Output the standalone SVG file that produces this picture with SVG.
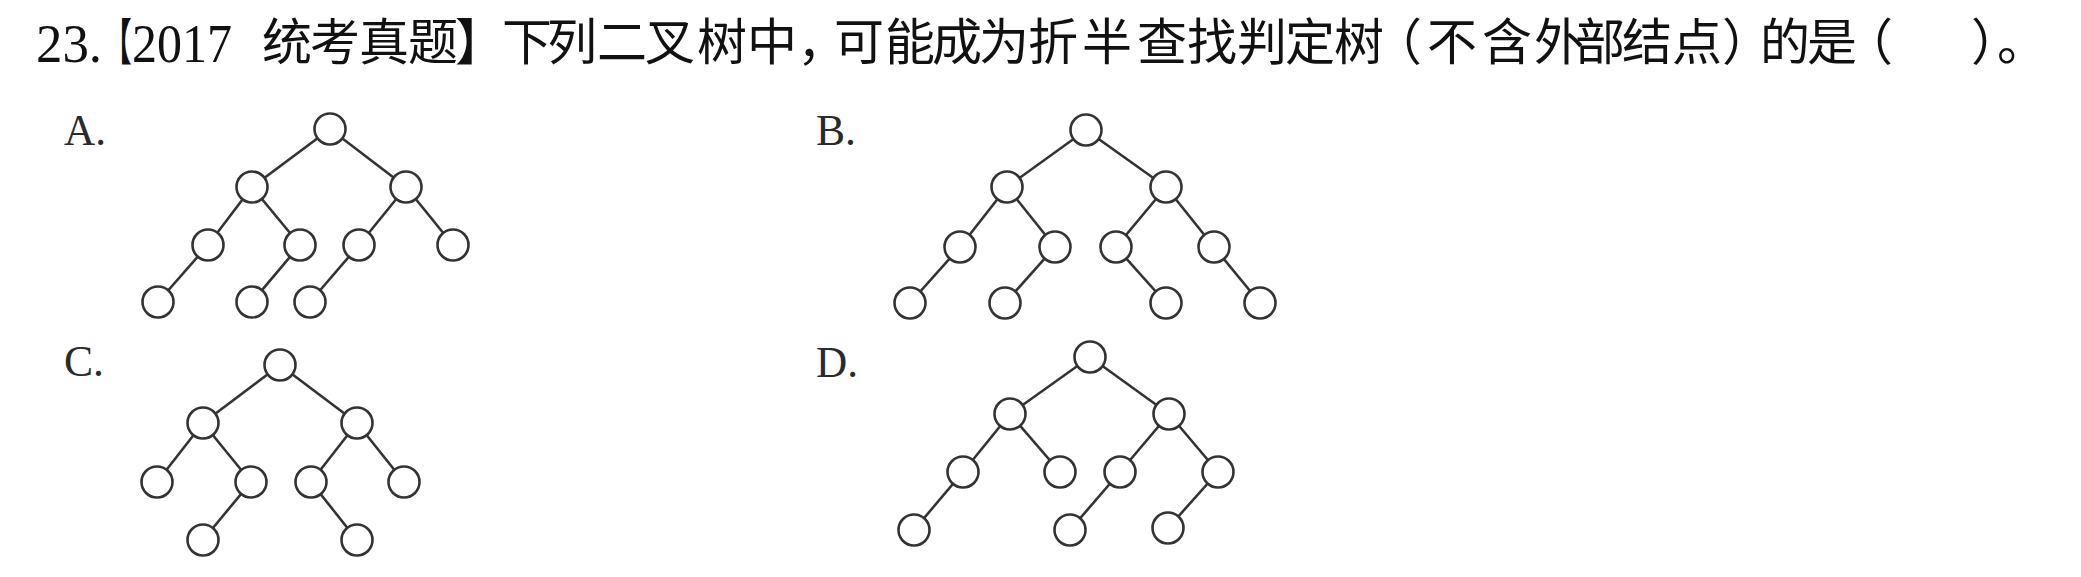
<svg xmlns="http://www.w3.org/2000/svg" width="2081" height="577" viewBox="0 0 2081 577">
<style>
.lat{font-family:"Liberation Serif","Times New Roman",serif;fill:#111}
.cjk{font-family:"Noto Sans CJK SC","Noto Sans CJK JP",sans-serif;fill:#111;font-size:50px}
.lbl{font-family:"Liberation Serif","Times New Roman",serif;fill:#2a2a2a;font-size:44px}
.edge{stroke:#333;stroke-width:2.6;fill:none}
.node{fill:#fff;stroke:#333;stroke-width:2.6}
</style>
<rect width="2081" height="577" fill="#fff"/>
<g id="title">
<text class="lat" x="36" y="62" font-size="55" textLength="66" lengthAdjust="spacingAndGlyphs">23.</text>
<text class="cjk" x="102" y="60" textLength="30" lengthAdjust="spacingAndGlyphs">【</text>
<text class="lat" x="132" y="62" font-size="55" textLength="100" lengthAdjust="spacingAndGlyphs">2017</text>
<text class="cjk" y="60" x="262 310 359 408 455 502 547 597 645 697 747 797 834 885 932 979 1028 1082 1137 1187 1237 1285 1334 1372 1427 1482 1534 1575 1622 1672 1722 1760 1807 1843">统考真题】下列二叉树中，可能成为折半查找判定树（不含外部结点）的是（</text>
<text class="cjk" y="60" x="1971 1997">）。</text>
</g>
<g id="labels">
<text class="lbl" x="64" y="145" textLength="42" lengthAdjust="spacingAndGlyphs">A.</text>
<text class="lbl" x="816" y="145" textLength="40" lengthAdjust="spacingAndGlyphs">B.</text>
<text class="lbl" x="64" y="376" textLength="40" lengthAdjust="spacingAndGlyphs">C.</text>
<text class="lbl" x="816" y="377" textLength="42" lengthAdjust="spacingAndGlyphs">D.</text>
</g>
<g id="connectors">
<!-- A -->
<line class="edge" x1="330" y1="129" x2="252" y2="187"/>
<line class="edge" x1="330" y1="129" x2="406" y2="187"/>
<line class="edge" x1="252" y1="187" x2="208" y2="245"/>
<line class="edge" x1="252" y1="187" x2="300" y2="245"/>
<line class="edge" x1="406" y1="187" x2="359" y2="245"/>
<line class="edge" x1="406" y1="187" x2="453" y2="245"/>
<line class="edge" x1="208" y1="245" x2="158" y2="302"/>
<line class="edge" x1="300" y1="245" x2="252" y2="302"/>
<line class="edge" x1="359" y1="245" x2="310" y2="302"/>
<!-- B -->
<line class="edge" x1="1086" y1="130" x2="1007" y2="187"/>
<line class="edge" x1="1086" y1="130" x2="1166" y2="187"/>
<line class="edge" x1="1007" y1="187" x2="960" y2="247"/>
<line class="edge" x1="1007" y1="187" x2="1055" y2="247"/>
<line class="edge" x1="1166" y1="187" x2="1116" y2="247"/>
<line class="edge" x1="1166" y1="187" x2="1214" y2="247"/>
<line class="edge" x1="960" y1="247" x2="910" y2="303"/>
<line class="edge" x1="1055" y1="247" x2="1005" y2="303"/>
<line class="edge" x1="1116" y1="247" x2="1166" y2="303"/>
<line class="edge" x1="1214" y1="247" x2="1260" y2="303"/>
<!-- C -->
<line class="edge" x1="280" y1="365" x2="203" y2="423"/>
<line class="edge" x1="280" y1="365" x2="357" y2="423"/>
<line class="edge" x1="203" y1="423" x2="157" y2="482"/>
<line class="edge" x1="203" y1="423" x2="251" y2="482"/>
<line class="edge" x1="357" y1="423" x2="311" y2="482"/>
<line class="edge" x1="357" y1="423" x2="404" y2="482"/>
<line class="edge" x1="251" y1="482" x2="203" y2="540"/>
<line class="edge" x1="311" y1="482" x2="357" y2="540"/>
<!-- D -->
<line class="edge" x1="1090" y1="357" x2="1010" y2="414"/>
<line class="edge" x1="1090" y1="357" x2="1169" y2="414"/>
<line class="edge" x1="1010" y1="414" x2="963" y2="472"/>
<line class="edge" x1="1010" y1="414" x2="1060" y2="472"/>
<line class="edge" x1="1169" y1="414" x2="1120" y2="472"/>
<line class="edge" x1="1169" y1="414" x2="1218" y2="472"/>
<line class="edge" x1="963" y1="472" x2="914" y2="530"/>
<line class="edge" x1="1120" y1="472" x2="1070" y2="530"/>
<line class="edge" x1="1218" y1="472" x2="1168" y2="528"/>
</g>
<g id="treeA">
<circle class="node" cx="330" cy="129" r="15.5"/>
<circle class="node" cx="252" cy="187" r="15.5"/>
<circle class="node" cx="406" cy="187" r="15.5"/>
<circle class="node" cx="208" cy="245" r="15.5"/>
<circle class="node" cx="300" cy="245" r="15.5"/>
<circle class="node" cx="359" cy="245" r="15.5"/>
<circle class="node" cx="453" cy="245" r="15.5"/>
<circle class="node" cx="158" cy="302" r="15.5"/>
<circle class="node" cx="252" cy="302" r="15.5"/>
<circle class="node" cx="310" cy="302" r="15.5"/>
</g>
<g id="treeB">
<circle class="node" cx="1086" cy="130" r="15.5"/>
<circle class="node" cx="1007" cy="187" r="15.5"/>
<circle class="node" cx="1166" cy="187" r="15.5"/>
<circle class="node" cx="960" cy="247" r="15.5"/>
<circle class="node" cx="1055" cy="247" r="15.5"/>
<circle class="node" cx="1116" cy="247" r="15.5"/>
<circle class="node" cx="1214" cy="247" r="15.5"/>
<circle class="node" cx="910" cy="303" r="15.5"/>
<circle class="node" cx="1005" cy="303" r="15.5"/>
<circle class="node" cx="1166" cy="303" r="15.5"/>
<circle class="node" cx="1260" cy="303" r="15.5"/>
</g>
<g id="treeC">
<circle class="node" cx="280" cy="365" r="15.5"/>
<circle class="node" cx="203" cy="423" r="15.5"/>
<circle class="node" cx="357" cy="423" r="15.5"/>
<circle class="node" cx="157" cy="482" r="15.5"/>
<circle class="node" cx="251" cy="482" r="15.5"/>
<circle class="node" cx="311" cy="482" r="15.5"/>
<circle class="node" cx="404" cy="482" r="15.5"/>
<circle class="node" cx="203" cy="540" r="15.5"/>
<circle class="node" cx="357" cy="540" r="15.5"/>
</g>
<g id="treeD">
<circle class="node" cx="1090" cy="357" r="15.5"/>
<circle class="node" cx="1010" cy="414" r="15.5"/>
<circle class="node" cx="1169" cy="414" r="15.5"/>
<circle class="node" cx="963" cy="472" r="15.5"/>
<circle class="node" cx="1060" cy="472" r="15.5"/>
<circle class="node" cx="1120" cy="472" r="15.5"/>
<circle class="node" cx="1218" cy="472" r="15.5"/>
<circle class="node" cx="914" cy="530" r="15.5"/>
<circle class="node" cx="1070" cy="530" r="15.5"/>
<circle class="node" cx="1168" cy="528" r="15.5"/>
</g>
</svg>
